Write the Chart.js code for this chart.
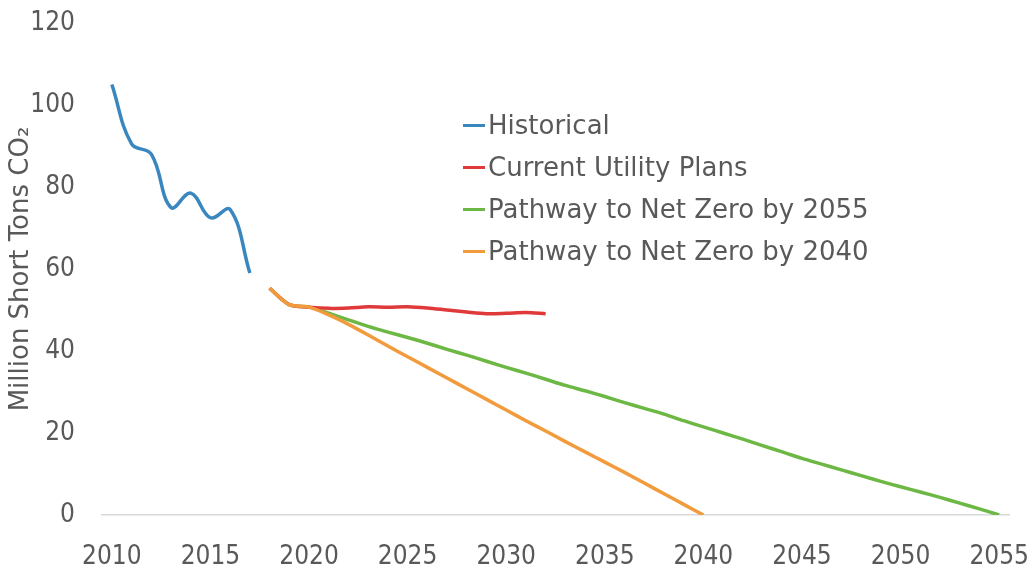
<!DOCTYPE html>
<html>
<head>
<meta charset="utf-8">
<script src="https://cdn.jsdelivr.net/npm/chart.js@4.4.1/dist/chart.umd.min.js"></script>
<style>
  html, body { margin: 0; padding: 0; background: #fff; }
  #wrap { position: relative; width: 1033px; height: 565px; }
  #legend { position: absolute; left: 463px; top: 104px; font: 26px "DejaVu Sans", sans-serif; color: #595959; }
  #legend .row { height: 42px; line-height: 42px; display: flex; align-items: center; white-space: nowrap; }
  #legend .mark { display: inline-block; width: 22px; height: 3px; margin-right: 3px; }
</style>
</head>
<body>
<div id="wrap">
  <canvas id="chart" width="1033" height="565"></canvas>
  <div id="legend"></div>
</div>
<script>
const xTicks = [2010, 2015, 2020, 2025, 2030, 2035, 2040, 2045, 2050, 2055];
const yTicks = [0, 20, 40, 60, 80, 100, 120];

const historicalYears = [2010, 2011, 2012, 2013, 2014, 2015, 2016, 2017];
const historical = [105, 90.5, 88, 75, 78.5, 72.5, 74.5, 59];

const projectionYears = [2018, 2019, 2020, 2021, 2022, 2023, 2024, 2025, 2026, 2027, 2028, 2029, 2030,
  2031, 2032, 2033, 2034, 2035, 2036, 2037, 2038, 2039, 2040, 2041, 2042, 2043, 2044, 2045,
  2046, 2047, 2048, 2049, 2050, 2051, 2052, 2053, 2054, 2055];
const currentPlans = [55.3, 51.3, 50.7, 50.4, 50.5, 50.8, 50.7, 50.8, 50.5, 50.0, 49.5, 49.1, 49.2, 49.4, 49.1];
const netZero2055 = [55.3, 51.3, 50.7, 49.2, 47.6, 46.0, 44.6, 43.3, 41.9, 40.4, 39.0, 37.5, 36.0,
  34.6, 33.1, 31.6, 30.3, 28.9, 27.4, 26.0, 24.6, 23.0, 21.5, 20.0, 18.5, 16.9, 15.4, 13.8,
  12.4, 11.0, 9.6, 8.2, 6.9, 5.6, 4.3, 2.9, 1.5, 0];
const netZero2040 = [55.3, 51.3, 50.7, 48.8, 46.5, 43.9, 41.2, 38.6, 36.0, 33.4, 30.8, 28.2, 25.6,
  23.0, 20.5, 17.9, 15.4, 12.9, 10.4, 7.8, 5.2, 2.6, 0];

const points = (xs, ys) => ys.map((y, i) => ({ x: xs[i], y }));

Chart.defaults.font.family = "'DejaVu Sans Condensed', 'DejaVu Sans', sans-serif";
Chart.defaults.color = "#595959";

const datasets = [
  { label: "Historical", data: points(historicalYears, historical), borderColor: "#3a87c0", tension: 0.4, order: 3 },
  { label: "Current Utility Plans", data: points(projectionYears, currentPlans), borderColor: "#e0393a", order: 1 },
  { label: "Pathway to Net Zero by 2055", data: points(projectionYears, netZero2055), borderColor: "#6db845", order: 2 },
  { label: "Pathway to Net Zero by 2040", data: points(projectionYears, netZero2040), borderColor: "#f29b3c", order: 0 },
];

const chart = new Chart(document.getElementById("chart"), {
  type: "line",
  data: { datasets: datasets.map((d) => ({ borderWidth: 3.5, pointRadius: 0, tension: 0.3, fill: false, ...d })) },
  options: {
    responsive: false,
    animation: false,
    layout: { padding: { top: 23, right: 24, left: 0, bottom: 0 } },
    plugins: { legend: { display: false }, tooltip: { enabled: false } },
    scales: {
      x: {
        type: "linear", min: 2009.5, max: 2055.5,
        grid: { display: false, drawTicks: false },
        border: { display: true, color: "#d9d9d9", width: 1.5 },
        ticks: { font: { size: 26 }, padding: 27, callback: (v) => String(v) },
        afterBuildTicks: (s) => { s.ticks = xTicks.map((value) => ({ value })); },
        afterFit: (s) => { s.height = 50; s.paddingLeft = 0; s.paddingRight = 0; },
      },
      y: {
        min: 0, max: 120,
        grid: { display: false, drawTicks: false },
        border: { display: false },
        ticks: { font: { size: 26 }, padding: 27 },
        afterBuildTicks: (s) => { s.ticks = yTicks.map((value) => ({ value })); },
        afterFit: (s) => { s.width = 102; s.paddingTop = 0; s.paddingBottom = 0; },
        title: { display: true, text: "Million Short Tons CO₂", color: "#595959", font: { family: "'DejaVu Sans', sans-serif", size: 26 }, padding: { top: 6, bottom: 0 } },
      },
    },
  },
});

const legend = document.getElementById("legend");
chart.data.datasets.forEach((d) => {
  const row = document.createElement("div");
  row.className = "row";
  const mark = document.createElement("span");
  mark.className = "mark";
  mark.style.background = d.borderColor;
  row.appendChild(mark);
  row.appendChild(document.createTextNode(d.label));
  legend.appendChild(row);
});
</script>
</body>
</html>
